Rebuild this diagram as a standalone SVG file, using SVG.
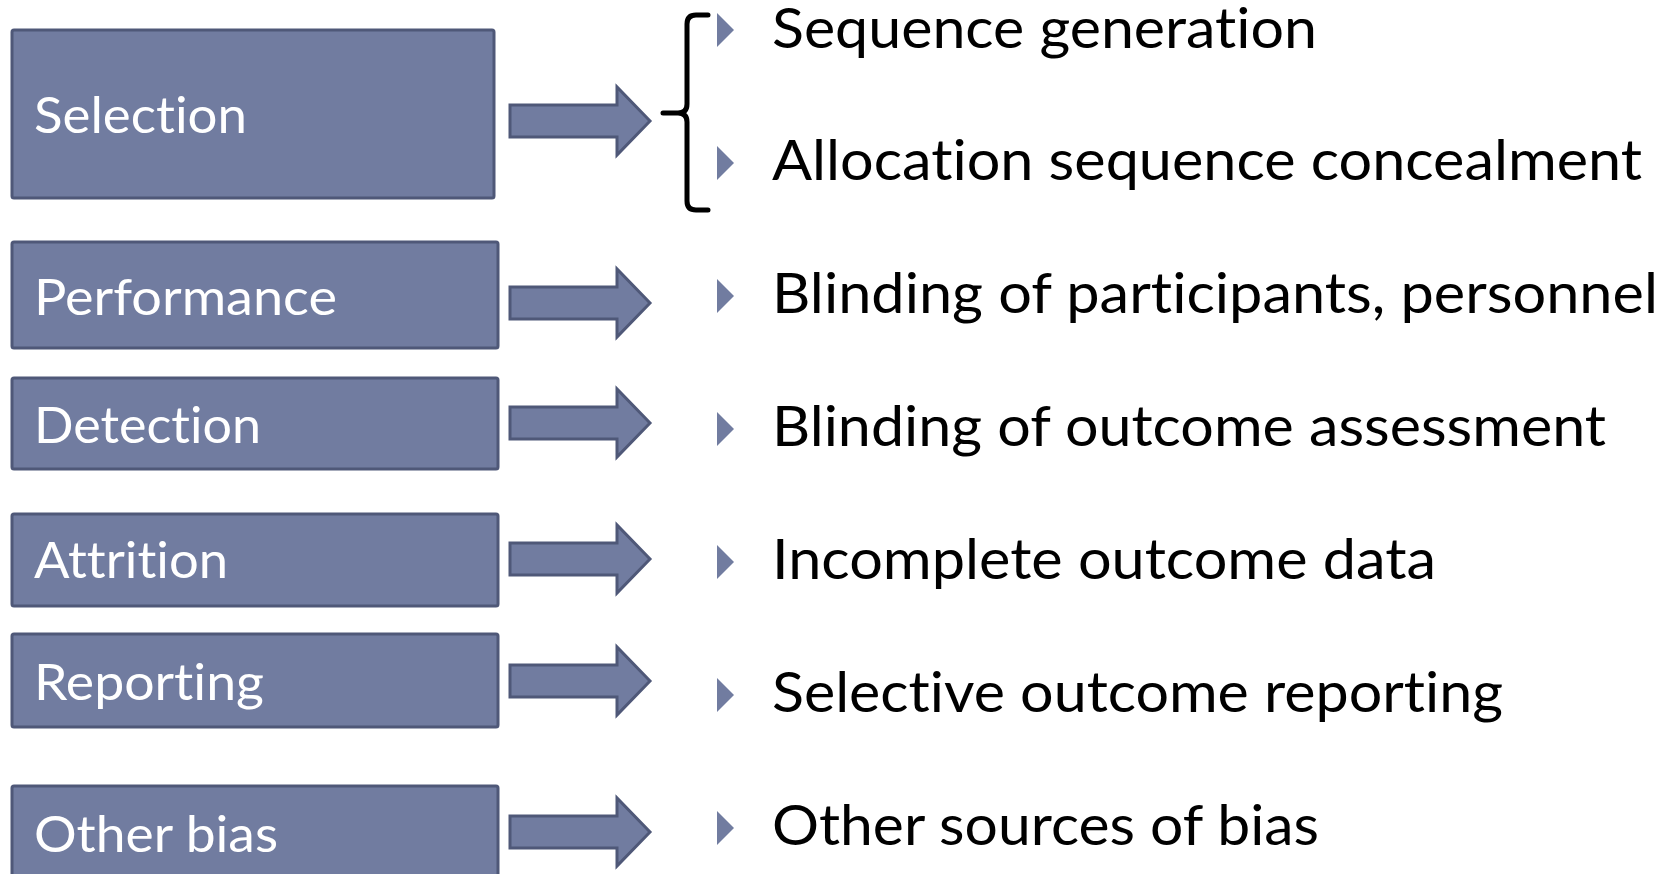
<svg xmlns="http://www.w3.org/2000/svg" width="1672" height="874" viewBox="0 0 1672 874">
<style>
.box{fill:#717ca0;stroke:#4f5878;stroke-width:3}
.arr{fill:#717ca0;stroke:#4f5878;stroke-width:3;stroke-linejoin:miter}
.lbl{font-family:Lato,"Open Sans",sans-serif;font-size:50px;fill:#ffffff;font-variant-ligatures:none;font-feature-settings:"liga" 0,"clig" 0,"dlig" 0}
.itm{font-family:Lato,"Open Sans",sans-serif;font-size:56px;fill:#000000;font-variant-ligatures:none;font-feature-settings:"liga" 0,"clig" 0,"dlig" 0}
.bul{fill:#717ca0}
.brace{fill:none;stroke:#000;stroke-width:5;stroke-linecap:round;stroke-linejoin:round}
</style>
<defs>
<polygon id="arrow" class="arr" points="510,-16 617,-16 617,-34 650,0 617,34 617,16 510,16"/>
<polygon id="bullet" class="bul" points="717,-34 734,-17 717,0"/>
</defs>
<rect width="1672" height="874" fill="#ffffff"/>

<g id="node-selection">
<rect class="box" x="12" y="30" width="482" height="168" rx="2"/>
<text class="lbl" x="34" y="133" textLength="213" lengthAdjust="spacingAndGlyphs">Selection</text>
</g>
<g id="node-performance">
<rect class="box" x="12" y="242" width="486" height="106" rx="2"/>
<text class="lbl" x="34" y="315" textLength="303" lengthAdjust="spacingAndGlyphs">Performance</text>
</g>
<g id="node-detection">
<rect class="box" x="12" y="378" width="486" height="91" rx="2"/>
<text class="lbl" x="34" y="443" textLength="227" lengthAdjust="spacingAndGlyphs">Detection</text>
</g>
<g id="node-attrition">
<rect class="box" x="12" y="514" width="486" height="92" rx="2"/>
<text class="lbl" x="34" y="578" textLength="194" lengthAdjust="spacingAndGlyphs">Attrition</text>
</g>
<g id="node-reporting">
<rect class="box" x="12" y="634" width="486" height="93" rx="2"/>
<text class="lbl" x="34" y="700" textLength="230" lengthAdjust="spacingAndGlyphs">Reporting</text>
</g>
<g id="node-other">
<rect class="box" x="12" y="786" width="486" height="110" rx="2"/>
<text class="lbl" x="34" y="852" textLength="244" lengthAdjust="spacingAndGlyphs">Other bias</text>
</g>

<g id="connectors">
<use href="#arrow" transform="translate(0,121)"/>
<use href="#arrow" transform="translate(0,303)"/>
<use href="#arrow" transform="translate(0,423)"/>
<use href="#arrow" transform="translate(0,559)"/>
<use href="#arrow" transform="translate(0,681)"/>
<use href="#arrow" transform="translate(0,832)"/>
<path class="brace" d="M708,15 H696 Q687,15 687,24 V104 Q687,113 678,113 H663 M678,113 Q687,113 687,122 V201 Q687,210 696,210 H708"/>
</g>

<g id="items">
<use href="#bullet" transform="translate(0,47)"/>
<text class="itm" x="772" y="48" textLength="545" lengthAdjust="spacingAndGlyphs">Sequence generation</text>
<use href="#bullet" transform="translate(0,180)"/>
<text class="itm" x="772" y="180" textLength="870" lengthAdjust="spacingAndGlyphs">Allocation sequence concealment</text>
<use href="#bullet" transform="translate(0,313)"/>
<text class="itm" x="772" y="313" textLength="886" lengthAdjust="spacingAndGlyphs">Blinding of participants, personnel</text>
<use href="#bullet" transform="translate(0,446)"/>
<text class="itm" x="772" y="446" textLength="834" lengthAdjust="spacingAndGlyphs">Blinding of outcome assessment</text>
<use href="#bullet" transform="translate(0,579)"/>
<text class="itm" x="772" y="579" textLength="664" lengthAdjust="spacingAndGlyphs">Incomplete outcome data</text>
<use href="#bullet" transform="translate(0,712)"/>
<text class="itm" x="772" y="712" textLength="731" lengthAdjust="spacingAndGlyphs">Selective outcome reporting</text>
<use href="#bullet" transform="translate(0,845)"/>
<text class="itm" x="772" y="845" textLength="547" lengthAdjust="spacingAndGlyphs">Other sources of bias</text>
</g>
</svg>
